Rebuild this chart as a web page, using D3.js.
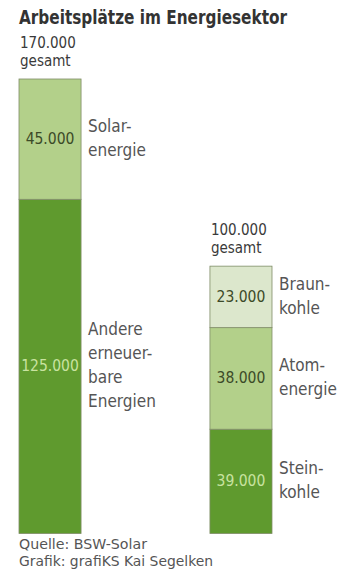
<!DOCTYPE html>
<html>
<head>
<meta charset="utf-8">
<script src="https://cdn.jsdelivr.net/npm/d3@7"></script>
<style>
  html, body { margin: 0; padding: 0; background: #ffffff; }
  svg { display: block; }
  text { font-family: "Liberation Sans Narrow", "DejaVu Sans Condensed", "Roboto", sans-serif; }
</style>
</head>
<body>
<svg id="chart" width="352" height="579"></svg>
<script>
// Arbeitsplätze im Energiesektor — stacked columns per sector group
const groups = ["Erneuerbare", "Konventionell"];
const totals = [170000, 100000];
const totalLabels = ["170.000", "100.000"];

// segments listed bottom to top
const segGroup  = ["Erneuerbare", "Erneuerbare", "Konventionell", "Konventionell", "Konventionell"];
const segNames  = [["Andere", "erneuer-", "bare", "Energien"], ["Solar-", "energie"], ["Stein-", "kohle"], ["Atom-", "energie"], ["Braun-", "kohle"]];
const segValues = [125000, 45000, 39000, 38000, 23000];
const segLabels = ["125.000", "45.000", "39.000", "38.000", "23.000"];
const segFill   = ["#5f9a2e", "#b3d08a", "#5f9a2e", "#b3d08a", "#dce7cc"];
const segInk    = ["#c9e3a0", "#3c4a28", "#c9e3a0", "#3c4a28", "#3c4a28"];

const svg = d3.select("#chart");

const x = d3.scaleBand().domain(groups).range([19, 272]).paddingInner(0.675).paddingOuter(0);
const y = d3.scaleLinear().domain([0, 170000]).range([533.5, 79]);

// cumulative bases per group
const base = {};
const segs = segValues.map((v, i) => {
  const g = segGroup[i];
  const y0 = base[g] || 0;
  base[g] = y0 + v;
  return { g, y0, y1: y0 + v, v, names: segNames[i], label: segLabels[i], fill: segFill[i], ink: segInk[i] };
});

// title
svg.append("text")
  .attr("x", 19).attr("y", 24)
  .attr("font-size", 20).attr("font-weight", "bold").attr("fill", "#333333")
  .attr("textLength", 268).attr("lengthAdjust", "spacingAndGlyphs")
  .text("Arbeitsplätze im Energiesektor");

// bar segments
svg.append("g").selectAll("rect").data(segs).join("rect")
  .attr("x", d => x(d.g))
  .attr("width", x.bandwidth())
  .attr("y", d => y(d.y1))
  .attr("height", d => y(d.y0) - y(d.y1))
  .attr("fill", d => d.fill)
  .attr("stroke", "#7f8c66")
  .attr("stroke-width", 0.8);

// value inside each segment
svg.append("g").selectAll("text").data(segs).join("text")
  .attr("x", d => x(d.g) + x.bandwidth() / 2)
  .attr("y", d => (y(d.y0) + y(d.y1)) / 2 + 5)
  .attr("text-anchor", "middle")
  .attr("font-size", 15.5)
  .attr("fill", d => d.ink)
  .text(d => d.label);

// segment names to the right of each column
const lineH = 24;
svg.append("g").selectAll("text").data(segs).join("text")
  .attr("x", d => x(d.g) + x.bandwidth() + 7)
  .attr("y", d => (y(d.y0) + y(d.y1)) / 2 + 5 - (d.names.length - 1) * lineH / 2)
  .attr("font-size", 17)
  .attr("fill", "#555555")
  .each(function(d) {
    const t = d3.select(this);
    d.names.forEach((n, k) => {
      t.append("tspan").attr("x", x(d.g) + x.bandwidth() + 7).attr("dy", k === 0 ? 0 : lineH).text(n);
    });
  });

// totals above each column, two separate lines
groups.forEach((g, i) => {
  const top = y(totals[i]);
  svg.append("text")
    .attr("x", x(g) + 1).attr("y", top - 31)
    .attr("font-size", 15).attr("fill", "#3a3a3a")
    .text(totalLabels[i]);
  svg.append("text")
    .attr("x", x(g) + 1).attr("y", top - 13)
    .attr("font-size", 15).attr("fill", "#3a3a3a")
    .text("gesamt");
});

// source lines
svg.append("text").attr("x", 19).attr("y", 549).attr("font-size", 14).attr("fill", "#555555")
  .attr("textLength", 128).attr("lengthAdjust", "spacingAndGlyphs")
  .text("Quelle: BSW-Solar");
svg.append("text").attr("x", 19).attr("y", 566).attr("font-size", 14).attr("fill", "#555555")
  .attr("textLength", 194).attr("lengthAdjust", "spacingAndGlyphs")
  .text("Grafik: grafiKS Kai Segelken");
</script>
</body>
</html>
